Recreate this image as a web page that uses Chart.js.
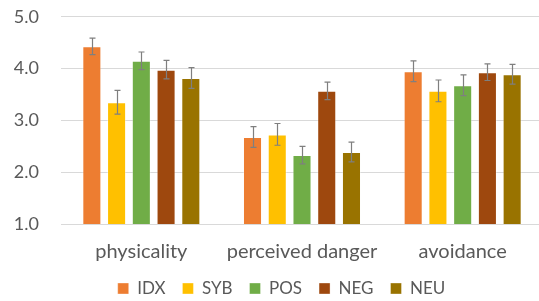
<!DOCTYPE html>
<html>
<head>
<meta charset="utf-8">
<script src="https://cdn.jsdelivr.net/npm/chart.js@4/dist/chart.umd.min.js"></script>
<style>
  html, body { margin: 0; padding: 0; background: #fff; overflow: hidden; }
  #wrap { width: 543px; height: 317px; margin-top: -16px; }
</style>
</head>
<body>
<div id="wrap"><canvas id="chart"></canvas></div>
<script>
const categories = ['physicality', 'perceived danger', 'avoidance'];
const seriesNames = ['IDX', 'SYB', 'POS', 'NEG', 'NEU'];
const seriesColors = ['#ED7D31', '#FFC000', '#70AD47', '#9E480E', '#997300'];

const idxValues = [4.43, 2.68, 3.95];
const sybValues = [3.35, 2.73, 3.57];
const posValues = [4.15, 2.33, 3.68];
const negValues = [3.98, 3.57, 3.93];
const neuValues = [3.82, 2.39, 3.89];

const idxErr = [0.16, 0.20, 0.20];
const sybErr = [0.23, 0.21, 0.21];
const posErr = [0.17, 0.17, 0.20];
const negErr = [0.18, 0.17, 0.16];
const neuErr = [0.20, 0.19, 0.19];

const allValues = [idxValues, sybValues, posValues, negValues, neuValues];
const allErr = [idxErr, sybErr, posErr, negErr, neuErr];

let datasets = [];
for (let i = 0; i < seriesNames.length; i++) {
    datasets.push({
        label: seriesNames[i],
        data: allValues[i],
        errors: allErr[i],
        backgroundColor: seriesColors[i],
        borderColor: 'rgba(255,255,255,0.35)',
        borderWidth: 1,
        categoryPercentage: 0.77,
        barPercentage: 0.77,
    });
}

// draws the error bars with the y scale
const errorBars = {
    id: 'errorBars',
    afterDatasetsDraw(chart) {
        const ctx = chart.ctx;
        const y = chart.scales.y;
        ctx.save();
        ctx.strokeStyle = '#7f7f7f';
        ctx.lineWidth = 1.2;
        chart.data.datasets.forEach(function (ds, di) {
            const meta = chart.getDatasetMeta(di);
            meta.data.forEach(function (bar, j) {
                const v = ds.data[j];
                const e = ds.errors[j];
                const top = y.getPixelForValue(v + e);
                const bot = y.getPixelForValue(v - e);
                const x = Math.round(bar.x) + 0.5;
                ctx.beginPath();
                ctx.moveTo(x, top);
                ctx.lineTo(x, bot);
                ctx.moveTo(x - 3, top);
                ctx.lineTo(x + 3, top);
                ctx.moveTo(x - 3, bot);
                ctx.lineTo(x + 3, bot);
                ctx.stroke();
            });
        });
        ctx.restore();
    }
};

// nudge the legend a bit (right and up)
const legendShift = {
    id: 'legendShift',
    afterLayout(chart) {
        const lg = chart.legend;
        lg.left += 8; lg.right += 8;
        lg.top -= 9; lg.bottom -= 9;
    }
};

Chart.defaults.font.family = 'Lato, "Open Sans", sans-serif';
Chart.defaults.color = '#595959';

new Chart(document.getElementById('chart'), {
    type: 'bar',
    data: { labels: categories, datasets: datasets },
    options: {
        responsive: true,
        maintainAspectRatio: false,
        animation: false,
        layout: { padding: { top: 0, right: 0, left: 4, bottom: -15 } },
        plugins: {
            legend: {
                position: 'bottom',
                labels: {
                    boxWidth: 11,
                    boxHeight: 11,
                    padding: 17,
                    font: { size: 17 },
                    color: '#595959',
                },
            },
            tooltip: { enabled: false },
        },
        scales: {
            x: {
                grid: { display: false },
                border: { color: '#d9d9d9' },
                ticks: { font: { size: 20 }, color: '#595959', padding: 8 },
            },
            y: {
                min: 1,
                max: 5,
                afterFit: function (scale) { scale.width = 57; },
                ticks: {
                    stepSize: 1,
                    font: { size: 18 },
                    color: '#595959',
                    padding: 22,
                    callback: function (v) { return v.toFixed(1); },
                },
                grid: { color: '#d9d9d9', drawTicks: false },
                border: { display: false },
            },
        },
    },
    plugins: [errorBars, legendShift],
});
</script>
</body>
</html>
